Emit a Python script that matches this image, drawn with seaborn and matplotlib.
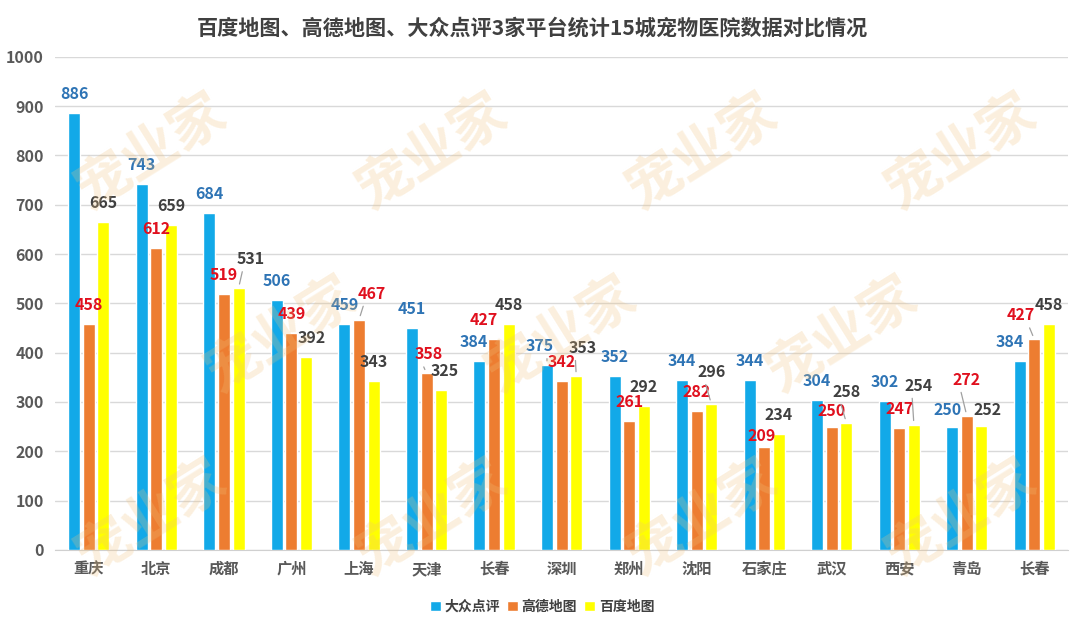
import pandas as pd
import matplotlib
matplotlib.use("Agg")
import matplotlib.pyplot as plt
import seaborn as sns

# data
cities = ["重庆", "北京", "成都", "广州", "上海", "天津", "长春", "深圳",
          "郑州", "沈阳", "石家庄", "武汉", "西安", "青岛", "长春"]
platforms = ["大众点评", "高德地图", "百度地图"]
dianping = [886, 743, 684, 506, 459, 451, 384, 375, 352, 344, 344, 304, 302, 250, 384]
gaode = [458, 612, 519, 439, 467, 358, 427, 342, 261, 282, 209, 250, 247, 272, 427]
baidu = [665, 659, 531, 392, 343, 325, 458, 353, 292, 296, 234, 258, 254, 252, 458]
yticks = list(range(0, 1001, 100))

bar_colors = ["#12A9E8", "#ED7D31", "#FFFF00"]
label_colors = ["#2E74B5", "#E0101E", "#404040"]

# nudges for labels that Excel moved to avoid overlaps (pixels), True = leader line
label_nudge = {
    (2, 2): (12, 10, True),
    (3, 2): (6, 0, False),
    (4, 1): (13, 7, True),
    (5, 1): (2, 0, True),
    (5, 2): (4, 0, False),
    (6, 0): (-6, 0, False),
    (6, 1): (-10, 0, False),
    (7, 0): (-7, 0, True),
    (7, 2): (6, 9, True),
    (9, 2): (0, 13, True),
    (10, 1): (-3, -8, False),
    (11, 1): (0, -3, False),
    (11, 2): (0, 12, True),
    (12, 2): (5, 20, True),
    (13, 0): (-5, -2, False),
    (13, 1): (0, 17, True),
    (13, 2): (6, -3, False),
    (14, 0): (-10, 0, False),
    (14, 1): (-14, 5, True),
}

df = pd.DataFrame({
    "idx": list(range(len(cities))) * 3,
    "platform": [p for p in platforms for _ in cities],
    "value": dianping + gaode + baidu,
})

sns.set_style("white")
plt.rcParams["font.family"] = ["Noto Sans CJK SC", "DejaVu Sans"]

fig = plt.figure(figsize=(10.8, 6.32), dpi=100)
ax = fig.add_axes([0.051, 0.130, 0.938, 0.780])

# faint background watermark, kept inside the figure
for wy, xs in [(0.76, [0.14, 0.40, 0.65, 0.89]),
               (0.47, [0.26, 0.52, 0.78]),
               (0.18, [0.14, 0.40, 0.65, 0.89])]:
    for wx in xs:
        fig.text(wx, wy, "宠业家", fontsize=40, color="#F1C27D", alpha=0.25,
                 rotation=32, ha="center", va="center", fontweight="bold", zorder=0)

ax.set_facecolor("none")
sns.barplot(data=df, x="idx", y="value", hue="platform", hue_order=platforms,
            palette=bar_colors, width=0.65, gap=0.18, saturation=1,
            ax=ax, legend=True, zorder=3)

ax.set_ylim(0, 1000)
ax.set_yticks(yticks)
ax.set_xticks(range(len(cities)))
ax.set_xticklabels(cities)
ax.set_xlabel("")
ax.set_ylabel("")
ax.grid(axis="y", color="#D9D9D9", lw=1, zorder=0)
ax.set_axisbelow(True)
for s in ["top", "right", "left"]:
    ax.spines[s].set_visible(False)
ax.spines["bottom"].set_color("#D0D0D0")
ax.tick_params(axis="both", length=0, pad=8)
for t in ax.get_yticklabels():
    t.set_fontsize(11.5)
    t.set_fontweight("bold")
    t.set_color("#595959")
for t in ax.get_xticklabels():
    t.set_fontsize(11)
    t.set_fontweight("bold")
    t.set_color("#595959")

# value labels
for s, cont in enumerate(ax.containers):
    for i, bar in enumerate(cont):
        h = bar.get_height()
        xc = bar.get_x() + bar.get_width() / 2
        dx, dy, lead = label_nudge.get((i, s), (0, 0, False))
        arrow = None
        if lead:
            rx = 0.25 if dx >= 0 else 0.75
            arrow = dict(arrowstyle="-", color="#A0A0A0", lw=0.9,
                         shrinkA=1, shrinkB=3, relpos=(rx, 0.05))
        ax.annotate(f"{int(h)}", xy=(xc, h), xytext=(dx, 19 + dy),
                    textcoords="offset pixels", ha="center", va="center",
                    fontsize=11.5, fontweight="bold", color=label_colors[s],
                    arrowprops=arrow, zorder=5)

fig.suptitle("百度地图、高德地图、大众点评3家平台统计15城宠物医院数据对比情况",
             x=0.493, y=0.956, va="center", fontsize=15.2, fontweight="bold",
             color="#404040")

handles, labels = ax.get_legend_handles_labels()
ax.get_legend().remove()
fig.legend(handles, labels, loc="center", bbox_to_anchor=(0.502, 0.040), ncol=3,
           frameon=False, handlelength=0.75, handleheight=0.75, handletextpad=0.3,
           columnspacing=0.5, prop={"size": 10, "weight": "bold"},
           labelcolor="#404040")

fig.savefig("out.png", dpi=100)
